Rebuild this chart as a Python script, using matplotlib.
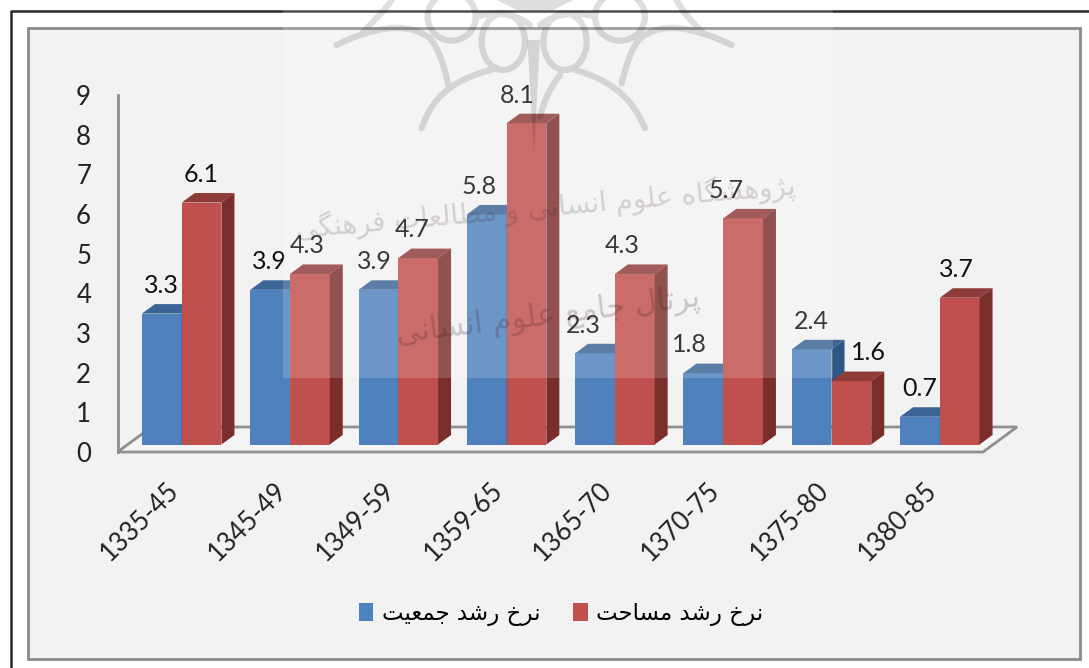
import matplotlib
matplotlib.use("Agg")
import matplotlib.pyplot as plt
from matplotlib.patches import Polygon, Rectangle, PathPatch, Patch
from matplotlib.path import Path
from matplotlib.transforms import Affine2D, ScaledTranslation

# datos del grafico
periodos = ['1335-45', '1345-49', '1349-59', '1359-65', '1365-70', '1370-75', '1375-80', '1380-85']
poblacion = [3.3, 3.9, 3.9, 5.8, 2.3, 1.8, 2.4, 0.7]
superficie = [6.1, 4.3, 4.7, 8.1, 4.3, 5.7, 1.6, 3.7]
ticks_y = [0, 1, 2, 3, 4, 5, 6, 7, 8, 9]
nombre_poblacion = 'نرخ رشد جمعیت'
nombre_superficie = 'نرخ رشد مساحت'
marca_1 = 'پژوهشگاه علوم انسانی و مطالعات فرهنگی'
marca_2 = 'پرتال جامع علوم انسانی'

# desplazamiento de cada etiqueta respecto a su barra (px)
ajuste_pob = [0, -1, -4, -8, -12, -14, 0, 0]
ajuste_sup = [0, -3, -6, -9, -13, -17, 17, -3]

# formas arabes: aislada, final, inicial, media
FORMAS = {
    'پ': 'ﭖﭗﭘﭙ', 'ژ': 'ﮊﮋ', 'و': 'ﻭﻮ', 'ه': 'ﻩﻪﻫﻬ', 'ش': 'ﺵﺶﺷﺸ', 'گ': 'ﮒﮓﮔﮕ',
    'ا': 'ﺍﺎ', 'ع': 'ﻉﻊﻋﻌ', 'ل': 'ﻝﻞﻟﻠ', 'م': 'ﻡﻢﻣﻤ', 'ن': 'ﻥﻦﻧﻨ', 'س': 'ﺱﺲﺳﺴ',
    'ی': 'ﯼﯽﯾﯿ', 'ط': 'ﻁﻂﻃﻄ', 'ت': 'ﺕﺖﺗﺘ', 'ف': 'ﻑﻒﻓﻔ', 'ر': 'ﺭﺮ', 'ج': 'ﺝﺞﺟﺠ',
    'خ': 'ﺥﺦﺧﺨ', 'ح': 'ﺡﺢﺣﺤ', 'د': 'ﺩﺪ',
}


def persa(txt):
    salida = []
    for i, c in enumerate(txt):
        if c not in FORMAS:
            salida.append(c)
            continue
        prev = txt[i - 1] if i > 0 else ' '
        sig = txt[i + 1] if i < len(txt) - 1 else ' '
        une_prev = prev in FORMAS and len(FORMAS[prev]) == 4
        une_sig = sig in FORMAS and len(FORMAS[c]) == 4
        if une_prev and une_sig:
            salida.append(FORMAS[c][3])
        elif une_prev:
            salida.append(FORMAS[c][1])
        elif une_sig:
            salida.append(FORMAS[c][2])
        else:
            salida.append(FORMAS[c][0])
    return ''.join(reversed(salida))


plt.rcParams['font.family'] = ['Lato', 'DejaVu Sans']
W, H = 1089, 668
fig = plt.figure(figsize=(W / 100, H / 100), dpi=100, facecolor='white')

# capa de fondo en pixeles
fondo = fig.add_axes([0, 0, 1, 1], zorder=0)
fondo.set_xlim(0, W)
fondo.set_ylim(H, 0)
fondo.axis('off')
fondo.plot([10.5, 10.5, W], [H, 11, 11], color='#2a2a2a', lw=1.8)
fondo.add_patch(Rectangle((27.5, 27.5), 1052, 631, fc='#f2f2f2', ec='#8a8a8a', lw=2))

# ejes del grafico: 108.3 px por categoria, 39.67 px por unidad
izq, der, arriba, abajo = 117.5, 1017, 95, 452
ax = fig.add_axes([izq / W, 1 - abajo / H, (der - izq) / W, (abajo - arriba) / H], zorder=1)
ax.patch.set_alpha(0)
ax.set_xlim((izq - 181.7) / 108.3, (der - 181.7) / 108.3)
ax.set_ylim(0, 9)

ancho = 0.367
dx, dy = 13 / 108.3, 9.5 / 39.67
base = 7.5 / 39.67


def barra(x, v, colores, z):
    c_frente, c_arriba, c_lado = colores
    y = base + v
    ax.bar(x, v, bottom=base, width=ancho, align='edge', color=c_frente, zorder=z)
    ax.add_patch(Polygon([(x, y), (x + ancho, y), (x + ancho + dx, y + dy), (x + dx, y + dy)],
                         fc=c_arriba, ec='none', zorder=z))
    ax.add_patch(Polygon([(x + ancho, base), (x + ancho + dx, base + dy), (x + ancho + dx, y + dy), (x + ancho, y)],
                         fc=c_lado, ec='none', zorder=z))


# piso
fx = (983 - 181.7) / 108.3
fdx, fdy = 34 / 108.3, 25 / 39.67
x0 = ax.get_xlim()[0]
ax.add_patch(Polygon([(x0, 0), (fx, 0), (fx + fdx, fdy), (x0 + fdx, fdy)], closed=True,
                     fc='#f4f4f4', ec='#8f8f8f', lw=2, zorder=1, clip_on=False))

azul = ('#4f81bd', '#3c6595', '#2f5583')
rojo = ('#c0504d', '#8f3b39', '#7a2e2c')
for i in range(len(periodos)):
    barra(i - ancho, poblacion[i], azul, 2 + i)
    barra(i, superficie[i], rojo, 2 + i)
    ax.annotate(str(poblacion[i]), (i - ancho / 2, base + poblacion[i]),
                xytext=(ajuste_pob[i] * 0.72, 12), textcoords='offset points',
                ha='center', va='bottom', fontsize=18, color='#111111', zorder=20)
    ax.annotate(str(superficie[i]), (i + ancho / 2, base + superficie[i]),
                xytext=(ajuste_sup[i] * 0.72, 12), textcoords='offset points',
                ha='center', va='bottom', fontsize=18, color='#111111', zorder=20)

for lado in ['top', 'right', 'bottom']:
    ax.spines[lado].set_visible(False)
ax.spines['left'].set_color('#8f8f8f')
ax.spines['left'].set_linewidth(2)
ax.set_yticks(ticks_y)
ax.set_yticklabels([str(t) for t in ticks_y], fontsize=18.5, color='#222222')
ax.tick_params(axis='y', length=0, pad=19)
ax.set_xticks(range(len(periodos)))
ax.set_xticklabels(periodos, rotation=45, ha='right', rotation_mode='anchor', fontsize=18.5, color='#222222')
ax.tick_params(axis='x', length=0, pad=16)
corrimiento = ScaledTranslation(-16 / 100, -3 / 100, fig.dpi_scale_trans)
for etiqueta in ax.get_xticklabels():
    etiqueta.set_transform(etiqueta.get_transform() + corrimiento)

# leyenda
fig.legend(handles=[Patch(fc=azul[0], label=persa(nombre_poblacion)), Patch(fc=rojo[0], label=persa(nombre_superficie))],
           loc='center', bbox_to_anchor=(561 / W, 1 - 614 / H), ncols=2, frameon=False,
           prop={'family': 'DejaVu Sans', 'size': 16.5}, handlelength=0.64, handleheight=0.85,
           handletextpad=0.36, columnspacing=1.44, labelcolor='#000000')

# marca de agua encima de todo
capa = fig.add_axes([0, 0, 1, 1], zorder=5)
capa.patch.set_alpha(0)
capa.set_xlim(0, W)
capa.set_ylim(H, 0)
capa.axis('off')
capa.add_patch(Rectangle((283, 0), 550, 378, fc='white', ec='none', alpha=0.17))

# logo, trazado sobre un recorte ampliado 3x desde (320, 0)
a_pixel = Affine2D().scale(1 / 3).translate(320, 0)
curvas = [
    [(50, 135), (150, 85), (260, 60), (330, 115)],
    [(330, 115), (360, 150), (375, 210), (385, 255)],
    [(305, 385), (340, 280), (410, 235), (530, 205)],
    [(975, 385), (930, 280), (860, 235), (750, 205)],
    [(1235, 135), (1130, 85), (1030, 60), (960, 115)],
    [(960, 115), (930, 150), (915, 210), (905, 250)],
    [(130, 95), (165, 60), (195, 30), (215, 0)],
    [(1145, 95), (1110, 60), (1085, 30), (1070, 0)],
    [(470, 50), (510, 35), (580, 35), (630, 75)],
    [(825, 50), (780, 35), (710, 35), (660, 75)],
    [(720, 225), (690, 260), (670, 310), (660, 350)],
]
partes = [Path(c, [Path.MOVETO, Path.CURVE4, Path.CURVE4, Path.CURVE4]) for c in curvas]
for cx, cy, rx, ry in [(550, 125, 65, 85), (735, 125, 65, 85), (395, 50, 72, 72), (900, 50, 75, 72)]:
    partes.append(Path.unit_circle().transformed(Affine2D().scale(rx, ry).translate(cx, cy)))
logo = Path.make_compound_path(*partes).transformed(a_pixel)
capa.add_patch(PathPatch(logo, fc='none', ec='black', lw=4.5, alpha=0.13, capstyle='round'))
relleno = [[(530, 0), (760, 0), (700, 30), (590, 30)], [(622, 120), (660, 120), (642, 460)]]
for pts in relleno:
    capa.add_patch(Polygon(a_pixel.transform(pts), fc='black', ec='none', alpha=0.13))

capa.text(545, 207, persa(marca_1), family='DejaVu Sans', fontsize=20, rotation=5, color='#3a1a1a', alpha=0.17,
          ha='center', va='center', rotation_mode='anchor')
capa.text(548, 316, persa(marca_2), family='DejaVu Sans', fontsize=22, rotation=7, color='#3a1a1a', alpha=0.22,
          ha='center', va='center', rotation_mode='anchor')

plt.savefig('out.png', dpi=100)
